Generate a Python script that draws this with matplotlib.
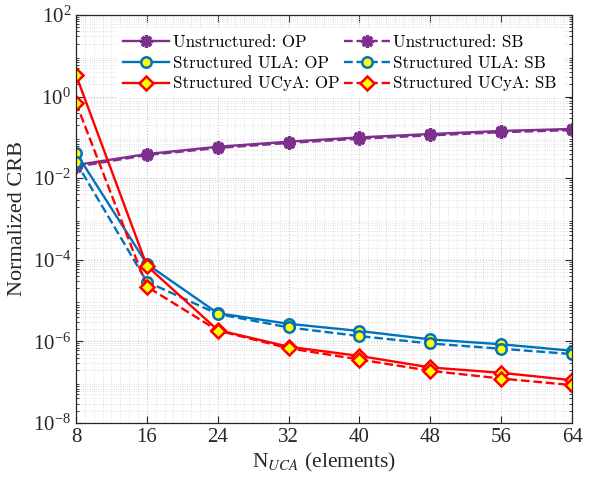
import numpy as np
import matplotlib
matplotlib.use('Agg')
import matplotlib.pyplot as plt
from matplotlib.ticker import LogLocator, MultipleLocator, NullFormatter

plt.rcParams['font.family'] = ['Liberation Serif', 'DejaVu Serif']
plt.rcParams['mathtext.fontset'] = 'stix'

## number of UCA elements
N = [8, 16, 24, 32, 40, 48, 56, 64]

## normalized CRB
unstr_op = [0.021, 0.039, 0.059, 0.0785, 0.100, 0.121, 0.144, 0.161]
unstr_sb = [0.019, 0.037, 0.055, 0.073, 0.093, 0.112, 0.134, 0.151]
ula_op = [0.042, 7.9e-5, 4.9e-6, 2.7e-6, 1.8e-6, 1.12e-6, 8.5e-7, 5.9e-7]
ula_sb = [0.025, 2.9e-5, 4.7e-6, 2.2e-6, 1.35e-6, 8.9e-7, 6.6e-7, 4.9e-7]
ucya_op = [3.4, 7.1e-5, 1.9e-6, 7.4e-7, 4.4e-7, 2.3e-7, 1.7e-7, 1.12e-7]
ucya_sb = [0.71, 2.2e-5, 1.85e-6, 6.8e-7, 3.6e-7, 1.9e-7, 1.23e-7, 8.5e-8]

purple = '#7E2F8E'
blue = '#0072BD'
red = '#FF0000'
yellow = '#FFFF00'

fig = plt.figure(figsize=(6.06, 4.79), dpi=100)
ax = fig.add_axes([0.1254, 0.1169, 0.8186, 0.8518])

ast = (8, 2, 0)
h1, = ax.semilogy(N, unstr_op, '-', color=purple, lw=1.7, marker=ast, ms=9, mew=2.4,
                  mec=purple, mfc=purple, label='Unstructured: OP')
h2, = ax.semilogy(N, unstr_sb, '--', color=purple, lw=1.7, marker=ast, ms=9, mew=2.4,
                  mec=purple, mfc=purple, label='Unstructured: SB')
h3, = ax.semilogy(N, ula_op, '-', color=blue, lw=1.7, marker='o', ms=7.5, mew=1.8,
                  mec=blue, mfc=yellow, label='Structured ULA: OP')
h4, = ax.semilogy(N, ula_sb, '--', color=blue, lw=1.7, marker='o', ms=7.5, mew=1.8,
                  mec=blue, mfc=yellow, label='Structured ULA: SB')
h5, = ax.semilogy(N, ucya_op, '-', color=red, lw=1.7, marker='D', ms=7, mew=1.8,
                  mec=red, mfc=yellow, label='Structured UCyA: OP')
h6, = ax.semilogy(N, ucya_sb, '--', color=red, lw=1.7, marker='D', ms=7, mew=1.8,
                  mec=red, mfc=yellow, label='Structured UCyA: SB')

ax.set_xlim(8, 64)
ax.set_ylim(1e-8, 1e2)
ax.set_xticks(N)
ax.xaxis.set_minor_locator(MultipleLocator(1))
ax.set_yticks([1e-8, 1e-6, 1e-4, 1e-2, 1e0, 1e2])
ax.yaxis.set_minor_locator(LogLocator(base=10, subs=np.arange(2, 10), numticks=40))
ax.yaxis.set_minor_formatter(NullFormatter())

ax.grid(True, which='major', color='#c4c4c4', ls=':', lw=0.8)
ax.grid(True, which='minor', color='#d8d8d8', ls=':', lw=0.6)
ax.set_axisbelow(True)
ax.tick_params(which='both', direction='in', top=True, right=True, labelsize=15,
               colors='#262626')
ax.tick_params(which='major', length=5)
ax.tick_params(which='minor', length=2.5)
ax.tick_params(axis='x', which='minor', length=0)
for s in ax.spines.values():
    s.set_color('#262626')
    s.set_linewidth(0.9)

ax.set_xlabel(r'N$_{UCA}$ (elements)', fontsize=15.5, color='#262626', labelpad=3)
ax.set_ylabel('Normalized CRB', fontsize=16, color='#262626')

handles = [h1, h3, h5, h2, h4, h6]
leg = ax.legend(handles, [h.get_label() for h in handles], ncol=2,
                loc='upper left', bbox_to_anchor=(0.082, 0.968),
                prop={'family': 'cmr10', 'size': 12.2}, frameon=True,
                edgecolor='none', facecolor='white', framealpha=1.0,
                handlelength=2.7, handletextpad=0.2, columnspacing=0.3,
                labelspacing=0.3, borderaxespad=0.0, borderpad=0.4, fancybox=False)

fig.savefig('out.png', dpi=100)
